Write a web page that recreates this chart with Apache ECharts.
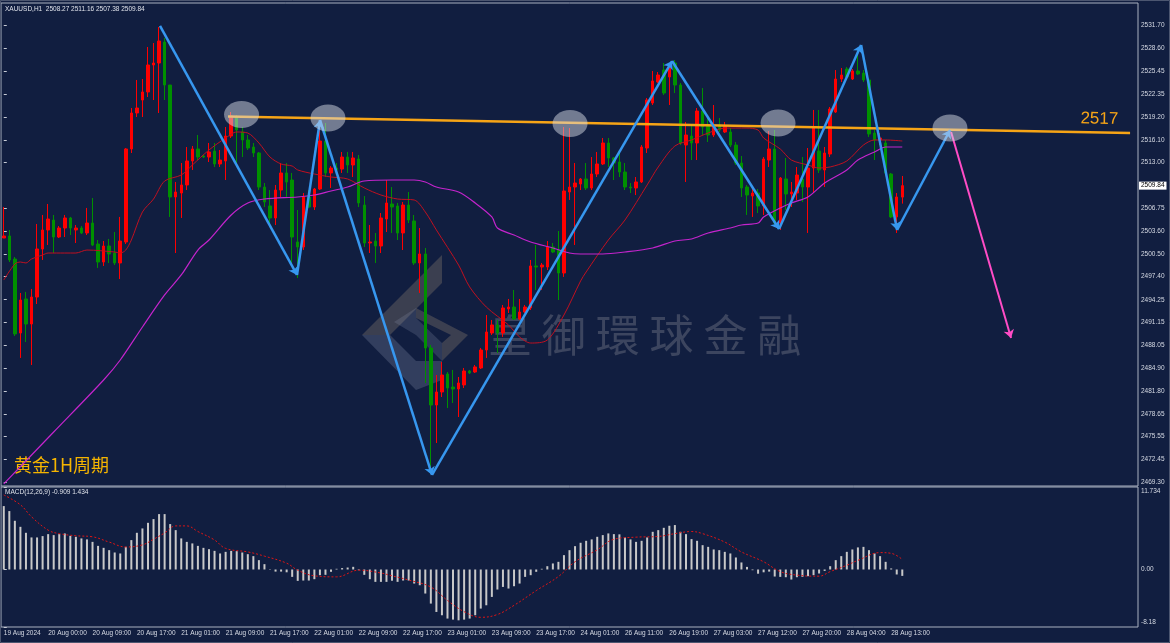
<!DOCTYPE html>
<html>
<head>
<meta charset="utf-8">
<script src="https://cdn.jsdelivr.net/npm/echarts@6/dist/echarts.min.js"></script>
<style>
html,body{margin:0;padding:0;background:#111e40;}
#main{width:1170px;height:643px;}
</style>
</head>
<body>
<div id="main"></div>
<script>
// 底部时间标签, 每8根K线一个
const timeLabels = ['19 Aug 2024','20 Aug 00:00','20 Aug 09:00','20 Aug 17:00','21 Aug 01:00','21 Aug 09:00','21 Aug 17:00','22 Aug 01:00','22 Aug 09:00','22 Aug 17:00','23 Aug 01:00','23 Aug 09:00','23 Aug 17:00','24 Aug 01:00','26 Aug 11:00','26 Aug 19:00','27 Aug 03:00','27 Aug 12:00','27 Aug 20:00','28 Aug 04:00','28 Aug 13:00'];
const barSlots = 205; // 右侧留白

// K线 [open, close, low, high]
const candles = [
[2502.68,2502.96,2502.68,2506.92],[2502.96,2499.68,2499.40,2503.78],[2499.81,2489.57,2489.29,2500.09],[2489.70,2494.21,2486.29,2495.17],
[2494.35,2490.93,2488.47,2495.31],[2490.93,2494.62,2485.33,2495.71],[2494.62,2501.18,2493.66,2504.60],[2501.18,2503.78,2499.68,2505.83],
[2503.78,2505.28,2501.73,2507.33],[2505.14,2502.82,2500.63,2505.83],[2502.82,2504.05,2502.68,2504.32],[2504.05,2505.42,2502.82,2505.83],
[2505.42,2504.05,2503.09,2505.56],[2503.78,2504.05,2502.00,2504.46],[2504.05,2503.37,2503.23,2504.32],[2503.37,2504.73,2503.09,2506.79],
[2504.73,2501.73,2501.59,2508.15],[2501.86,2499.40,2498.59,2502.41],[2499.40,2501.59,2498.86,2502.27],[2501.59,2500.50,2499.27,2502.55],
[2500.63,2499.27,2498.99,2503.50],[2499.27,2502.27,2497.08,2505.56],[2502.14,2514.85,2501.86,2514.98],[2514.85,2519.77,2514.30,2520.45],
[2519.77,2520.45,2519.22,2524.28],[2521.54,2522.64,2519.22,2524.41],[2522.64,2526.33,2521.95,2528.79],[2526.33,2526.60,2521.54,2529.33],
[2526.60,2529.61,2519.77,2531.52],[2529.47,2523.59,2521.54,2530.02],[2523.59,2508.29,2505.56,2523.59],[2508.29,2508.97,2500.63,2510.34],
[2508.83,2509.93,2505.42,2512.93],[2509.93,2513.21,2509.24,2515.12],[2513.21,2514.85,2511.98,2515.26],[2514.85,2513.75,2513.34,2516.76],
[2513.89,2513.75,2513.62,2514.03],[2513.75,2514.44,2513.07,2515.67],[2514.57,2512.80,2512.39,2515.67],[2512.80,2513.34,2512.39,2514.71],
[2513.21,2516.62,2510.61,2517.85],[2516.62,2519.36,2516.35,2519.90],[2519.22,2517.44,2512.93,2519.49],[2517.17,2516.08,2513.75,2517.85],
[2516.08,2514.98,2514.71,2516.76],[2515.12,2514.30,2513.75,2515.67],[2514.30,2509.65,2509.24,2514.44],[2509.65,2507.60,2506.92,2510.20],
[2507.06,2505.42,2504.19,2509.24],[2505.42,2509.24,2504.46,2509.93],[2509.24,2511.57,2508.29,2512.93],[2511.57,2510.34,2508.29,2512.93],
[2510.61,2502.82,2498.99,2511.57],[2502.14,2501.45,2497.22,2506.51],[2501.45,2508.29,2501.04,2508.83],[2508.29,2506.92,2506.79,2509.24],
[2506.92,2509.38,2506.51,2509.52],[2509.38,2515.94,2509.24,2518.81],[2515.94,2511.57,2511.02,2518.40],[2511.57,2512.25,2509.52,2512.52],
[2512.25,2511.98,2511.70,2512.93],[2512.11,2513.75,2511.57,2514.44],[2513.75,2512.66,2511.57,2514.44],[2512.66,2513.62,2511.02,2514.44],
[2513.48,2507.47,2506.92,2514.03],[2507.19,2502.00,2501.45,2508.42],[2502.00,2502.14,2500.63,2504.46],[2502.27,2501.59,2499.27,2503.37],
[2501.59,2505.42,2500.63,2506.10],[2505.28,2507.47,2503.50,2510.61],[2507.33,2506.92,2503.37,2509.65],[2507.06,2503.37,2502.41,2507.47],
[2503.37,2507.19,2501.04,2507.60],[2507.19,2505.14,2504.73,2508.97],[2505.01,2499.27,2498.99,2505.83],[2499.27,2500.50,2495.17,2504.05],
[2500.50,2487.65,2482.87,2501.32],[2487.65,2479.86,2470.57,2488.06],[2479.86,2481.64,2474.67,2483.96],[2481.64,2483.96,2480.95,2485.74],
[2484.10,2482.18,2479.45,2484.37],[2482.32,2482.05,2480.13,2484.65],[2482.05,2482.87,2478.22,2483.69],[2482.60,2484.51,2482.18,2484.92],
[2484.51,2484.24,2484.10,2484.65],[2484.37,2485.06,2484.24,2485.33],[2484.92,2487.38,2484.78,2487.65],[2487.38,2489.84,2486.29,2492.16],
[2489.70,2490.80,2489.43,2491.48],[2490.80,2489.70,2486.97,2491.48],[2489.70,2493.12,2489.16,2493.53],[2492.98,2493.25,2492.43,2494.35],
[2493.25,2491.61,2491.48,2495.58],[2491.61,2492.57,2491.48,2494.35],[2492.57,2493.25,2492.43,2493.53],[2493.12,2498.86,2492.84,2499.68],
[2498.86,2498.72,2495.58,2501.73],[2498.72,2498.99,2495.58,2499.27],[2498.72,2501.45,2498.31,2502.27],[2501.45,2500.77,2500.63,2502.00],
[2501.04,2497.90,2494.21,2503.64],[2497.90,2509.11,2497.36,2517.85],[2508.97,2509.65,2507.88,2517.71],[2509.65,2510.20,2501.73,2512.93],
[2510.06,2510.75,2509.24,2510.88],[2510.75,2509.52,2509.24,2512.93],[2509.52,2511.43,2509.24,2513.75],[2511.43,2512.80,2511.02,2514.44],
[2512.80,2515.67,2512.66,2516.35],[2515.67,2513.62,2512.39,2516.35],[2513.62,2512.93,2510.61,2513.75],[2513.07,2511.70,2511.02,2514.71],
[2511.70,2509.65,2509.24,2512.93],[2509.65,2509.52,2508.83,2510.20],[2509.52,2510.34,2508.56,2511.02],[2510.34,2515.12,2510.20,2515.39],
[2514.98,2521.54,2514.30,2521.82],[2521.13,2524.14,2520.86,2525.51],[2524.00,2524.96,2523.87,2525.37],[2525.64,2522.50,2522.23,2526.60],
[2524.69,2525.92,2520.86,2526.46],[2526.60,2523.59,2522.50,2527.01],[2523.59,2515.67,2515.39,2523.87],[2515.39,2516.76,2510.34,2518.54],
[2516.62,2515.67,2513.34,2518.13],[2515.67,2520.04,2513.34,2520.45],[2520.04,2517.85,2516.76,2523.18],[2518.13,2516.76,2515.80,2519.08],
[2516.76,2517.99,2516.49,2520.86],[2518.13,2517.44,2517.17,2519.08],[2517.17,2517.99,2517.03,2518.54],[2517.17,2515.39,2515.12,2517.71],
[2515.39,2512.93,2512.66,2515.80],[2512.93,2509.52,2508.29,2513.89],[2509.65,2508.56,2505.83,2509.93],[2508.42,2508.83,2505.56,2509.65],
[2508.83,2507.06,2506.10,2509.38],[2507.06,2513.48,2505.83,2513.75],[2513.34,2514.85,2512.39,2517.31],[2514.85,2504.73,2504.19,2517.44],
[2504.73,2510.88,2503.78,2511.02],[2510.75,2508.70,2506.51,2513.62],[2508.70,2508.97,2506.92,2510.34],[2508.83,2511.29,2507.88,2512.39],
[2510.75,2509.65,2507.60,2513.75],[2509.65,2512.25,2503.37,2514.98],[2512.25,2517.85,2508.83,2520.18],[2514.57,2511.98,2511.57,2520.18],
[2511.98,2514.30,2509.65,2515.12],[2514.16,2520.31,2513.75,2520.59],[2519.90,2524.41,2519.77,2525.64],[2524.41,2524.96,2524.00,2525.92],
[2525.78,2524.69,2524.28,2526.05],[2524.41,2525.51,2524.28,2525.78],[2525.51,2525.10,2524.96,2528.65],[2525.23,2524.28,2524.00,2525.64],
[2524.28,2516.90,2516.49,2524.55],[2517.03,2516.08,2513.34,2517.44],[2516.08,2516.35,2515.39,2517.03],[2515.67,2511.57,2511.29,2516.08],
[2511.43,2505.56,2505.42,2511.57],[2505.56,2508.29,2503.37,2508.83],[2508.27,2509.84,2507.38,2511.16]
];

// 均线 (读图取样点) [bar index, price]
const maFast = [[0,2496.94],[2,2499.13],[3,2499.40],[4,2499.27],[5,2499.81],[7,2500.36],[8,2500.63],[11,2500.63],[13,2500.63],[15,2501.04],[20,2500.77],[21,2500.63],[22,2501.04],[23,2502.41],[25,2506.24],[27,2508.01],[29,2510.47],[32,2511.29],[34,2512.66],[37,2514.71],[40,2516.35],[42,2517.17],[44,2517.03],[46,2515.67],[48,2513.75],[50,2512.80],[52,2512.52],[53,2511.98],[56,2511.43],[59,2511.02],[62,2510.75],[65,2509.52],[68,2508.56],[71,2508.01],[74,2507.88],[76,2506.24],[78,2503.78],[82,2498.99],[84,2495.99],[87,2493.25],[91,2490.80],[93,2489.16],[95,2488.33],[98,2488.74],[101,2492.16],[104,2496.81],[105,2498.04],[109,2502.41],[112,2505.14],[116,2509.93],[118,2512.39],[121,2515.26],[124,2516.08],[127,2517.03],[130,2517.71],[134,2517.71],[136,2517.44],[137,2516.35],[140,2514.85],[142,2513.34],[145,2512.66],[147,2512.25],[149,2512.39],[152,2513.21],[155,2515.39],[157,2516.08],[159,2516.08],[162,2515.94]];
const maSlow = [[0,2469.07],[9,2476.17],[18,2483.28],[21,2486.01],[25,2490.52],[29,2494.90],[32,2497.63],[35,2501.04],[37,2502.41],[41,2505.83],[44,2507.47],[47,2508.01],[53,2508.29],[56,2508.56],[59,2509.11],[62,2509.65],[65,2510.47],[70,2510.61],[74,2510.61],[76,2510.34],[78,2509.65],[82,2508.97],[85,2507.47],[88,2505.56],[89,2504.05],[92,2503.09],[95,2502.14],[99,2501.32],[102,2500.63],[104,2500.50],[108,2500.50],[112,2500.77],[117,2501.32],[121,2502.27],[124,2502.55],[127,2503.37],[131,2504.05],[133,2504.46],[136,2504.73],[137,2505.56],[140,2506.79],[142,2507.47],[145,2508.29],[148,2510.20],[152,2511.98],[154,2513.34],[157,2514.44],[159,2515.12],[162,2515.12]];

// MACD 柱
const macdHist = [9.02,8.31,6.93,6.07,5.22,4.56,4.56,4.75,5.03,4.89,5.03,5.13,4.79,4.65,4.42,4.28,3.93,3.36,3.08,2.75,2.42,2.28,3.22,4.18,5.22,5.84,6.64,7.17,7.88,7.88,6.46,5.60,4.42,3.93,3.71,3.36,3.08,2.89,2.65,2.28,2.51,2.65,2.61,2.42,2.18,1.90,1.33,0.76,0.05,-0.3,-0.3,-0.4,-1.05,-1.62,-1.57,-1.57,-1.38,-0.81,-0.76,-0.33,0.1,0.2,0.28,0.38,-0.1,-0.76,-1.38,-1.76,-1.76,-1.76,-1.6,-1.76,-1.57,-1.57,-2.0,-2.24,-3.42,-4.85,-6.04,-6.51,-6.98,-7.13,-7.23,-7.13,-6.98,-6.51,-5.56,-5.09,-3.9,-2.85,-2.48,-2.71,-2.38,-2.0,-1.05,-0.81,-0.33,0.1,0.47,0.86,1.09,2.04,2.75,3.32,3.80,4.08,4.28,4.65,4.89,5.13,5.03,5.0,4.56,4.28,3.93,4.08,4.56,5.36,5.60,5.93,6.22,6.32,5.36,5.03,4.32,4.08,3.46,3.22,2.85,2.75,2.51,2.28,1.71,1.0,0.37,-0.1,-0.6,-0.4,-0.3,-1.0,-1.05,-1.1,-1.43,-1.1,-1.05,-0.95,-0.81,-0.57,-0.2,0.47,1.33,1.90,2.51,2.85,3.14,3.22,2.75,2.28,1.90,1.09,0.15,-0.71,-0.909];
// 信号线 (取样点)
const macdSignal = [[0,10.6],[3,9.2],[5,7.5],[8,5.6],[10,5.1],[13,4.8],[16,4.65],[19,3.9],[22,3.2],[25,3.5],[27,4.3],[29,5.2],[31,6.2],[33,6.2],[35,5.4],[38,4.2],[40,3.0],[44,2.5],[47,1.9],[51,0.9],[53,-0.1],[56,-0.9],[60,-1.05],[64,-0.1],[68,-0.5],[70,-0.9],[73,-1.5],[77,-2.5],[80,-4.4],[83,-6.0],[86,-6.8],[89,-6.4],[92,-5.1],[96,-3.0],[100,-1.0],[103,1.1],[107,2.8],[110,4.3],[114,4.6],[118,4.7],[121,5.1],[124,5.4],[126,5.1],[130,3.9],[133,2.5],[137,1.1],[140,-0.3],[143,-0.8],[147,-0.95],[149,-0.3],[152,0.6],[154,1.3],[158,2.4],[160,2.3],[162,1.434]];

// 坐标轴刻度
const priceTicks = [2469.30,2472.45,2475.55,2478.65,2481.80,2484.90,2488.05,2491.15,2494.25,2497.40,2500.50,2503.60,2506.75,2513.00,2516.10,2519.20,2522.35,2525.45,2528.60,2531.70];
const macdTicks = [11.734, 0, -8.18];

// 画线标注 [bar index, price]
const zigzag = [[28.17,2531.66],[52.87,2497.63],[57.02,2518.81],[77.21,2470.30],[120.49,2526.87],[139.78,2503.91],[154.57,2529.06],[161.06,2503.78],[170.62,2517.44]];
const circleMarks = [[42.87,2519.56],[58.46,2519.08],[102.1,2518.33],[139.6,2518.40],[170.6,2517.71]];
const resistLine = [[40.43,2519.29],[203.07,2517.03]];
const pinkArrow = [[170.8,2517.17],[181.61,2489.02]];

const cats = [];
for (let i = 0; i < barSlots; i++) cats.push(String(i));
const last = candles[candles.length - 1];

const chart = echarts.init(document.getElementById('main'));
const axisFont = { color: '#d6dae4', fontSize: 6.5, fontFamily: 'Liberation Sans' };
const segs = [];
for (let i = 1; i < zigzag.length; i++) segs.push({ coords: [zigzag[i - 1], zigzag[i]] });

chart.setOption({
  animation: false,
  backgroundColor: '#111e40',
  grid: [
    { left: 1, top: 3, width: 1137, height: 483, show: true, borderColor: '#aab1c0', borderWidth: 1 },
    { left: 1, top: 487, width: 1137, height: 140, show: true, borderColor: '#aab1c0', borderWidth: 1 }
  ],
  xAxis: [
    { type: 'category', gridIndex: 0, data: cats, show: false },
    {
      type: 'category', gridIndex: 1, data: cats,
      axisLine: { show: false },
      axisTick: { alignWithLabel: true, length: 3, lineStyle: { color: '#c8ccd6' },
        interval: (idx) => idx % 8 === 0 && idx / 8 < timeLabels.length },
      axisLabel: Object.assign({ align: 'left', margin: 3,
        interval: (idx) => idx % 8 === 0 && idx / 8 < timeLabels.length,
        formatter: (v, idx) => timeLabels[idx / 8] || '' }, axisFont)
    },
    { type: 'value', gridIndex: 0, min: -0.5, max: barSlots - 0.5, show: false },
    { type: 'value', gridIndex: 1, min: -0.5, max: barSlots - 0.5, show: false }
  ],
  yAxis: [
    {
      type: 'value', gridIndex: 0, position: 'right', min: 2468.79, max: 2534.80,
      splitLine: { show: false }, axisLine: { show: false },
      axisTick: { show: true, length: 3, customValues: priceTicks, lineStyle: { color: '#c8ccd6' } },
      axisLabel: Object.assign({ margin: 3, customValues: priceTicks, formatter: (v) => v.toFixed(2) }, axisFont)
    },
    {
      type: 'value', gridIndex: 1, position: 'right', min: -8.18, max: 11.734,
      splitLine: { show: false }, axisLine: { show: false },
      axisTick: { show: true, length: 3, customValues: macdTicks, lineStyle: { color: '#c8ccd6' } },
      axisLabel: Object.assign({ margin: 3, customValues: macdTicks,
        formatter: (v) => v === 11.734 ? '{t|11.734}' : (v === -8.18 ? '{b|-8.18}' : v.toFixed(2)),
        rich: {
          t: { padding: [9, 0, 0, 0], color: '#d6dae4', fontSize: 6.5, fontFamily: 'Liberation Sans' },
          b: { padding: [0, 0, 9, 0], color: '#d6dae4', fontSize: 6.5, fontFamily: 'Liberation Sans' }
        } }, axisFont)
    }
  ],
  series: [
    {
      type: 'candlestick', xAxisIndex: 0, yAxisIndex: 0, data: candles, barWidth: 3,
      itemStyle: { color: '#ff0000', color0: '#009000', borderColor: '#ff0000', borderColor0: '#009000', borderWidth: 1 },
      z: 2
    },
    // 当前价标签
    { type: 'line', xAxisIndex: 2, yAxisIndex: 0, data: [], z: 20,
      markLine: {
        silent: true, symbol: 'none', animation: false,
        lineStyle: { color: 'rgba(0,0,0,0)', width: 1 },
        label: { show: true, position: 'end', distance: 1, formatter: (p) => Number(p.value).toFixed(2),
          backgroundColor: '#ffffff', color: '#000000', padding: [1, 2, 0, 2],
          fontSize: 6.5, fontFamily: 'Liberation Sans' },
        data: [{ yAxis: last[1] }]
      } },
    { type: 'line', xAxisIndex: 2, yAxisIndex: 0, data: maFast, showSymbol: false, smooth: 0.3,
      lineStyle: { color: '#c01020', width: 1 }, z: 3 },
    { type: 'line', xAxisIndex: 2, yAxisIndex: 0, data: maSlow, showSymbol: false, smooth: 0.3,
      lineStyle: { color: '#c424cc', width: 1.2 }, z: 3 },
    { type: 'lines', coordinateSystem: 'cartesian2d', xAxisIndex: 2, yAxisIndex: 0, z: 6,
      data: [{ coords: resistLine }],
      lineStyle: { color: '#f6a416', width: 2.5, opacity: 1 },
      label: { show: true, position: 'insideEndTop', formatter: '2517', color: '#f6a416',
        fontSize: 17, fontFamily: 'Liberation Sans', distance: 5, padding: [0, 7, 0, 0] } },
    { type: 'lines', coordinateSystem: 'cartesian2d', xAxisIndex: 2, yAxisIndex: 0, z: 7,
      data: segs, symbol: ['none', 'arrow'], symbolSize: 8,
      lineStyle: { color: '#3797ef', width: 2.5, opacity: 1 } },
    { type: 'lines', coordinateSystem: 'cartesian2d', xAxisIndex: 2, yAxisIndex: 0, z: 7,
      data: [{ coords: pinkArrow }], symbol: ['none', 'arrow'], symbolSize: 8,
      lineStyle: { color: '#ff4cc6', width: 2, opacity: 1 } },
    { type: 'scatter', xAxisIndex: 2, yAxisIndex: 0, data: circleMarks, symbol: 'circle',
      symbolSize: [35, 27], itemStyle: { color: 'rgba(214,218,228,0.62)' }, z: 8 },
    { type: 'bar', xAxisIndex: 1, yAxisIndex: 1, data: macdHist, barWidth: 2,
      itemStyle: { color: '#c8c8c8' } },
    { type: 'line', xAxisIndex: 3, yAxisIndex: 1, data: macdSignal, showSymbol: false, smooth: 0.4,
      lineStyle: { color: '#e01414', width: 1, type: [2, 2] } }
  ],
  graphic: [
    { type: 'rect', silent: true, shape: { x: 0.5, y: 0.5, width: 1169, height: 642 },
      style: { fill: 'none', stroke: '#4c5670', lineWidth: 1 } },
    { type: 'text', x: 5, y: 9, style: { text: 'XAUUSD,H1  ' + [last[0], last[3], last[2], last[1]].map(v => v.toFixed(2)).join(' '),
      fill: '#dfe2ea', font: '6.5px "Liberation Sans"', verticalAlign: 'middle' } },
    { type: 'text', x: 5, y: 492, style: { text: 'MACD(12,26,9) ' + macdHist[macdHist.length - 1].toFixed(3) + ' ' + macdSignal[macdSignal.length - 1][1].toFixed(3),
      fill: '#dfe2ea', font: '6.5px "Liberation Sans"', verticalAlign: 'middle' } },
    { type: 'text', x: 14, y: 465, style: { text: '黄金1H周期', fill: '#f5b400',
      font: '18px "Noto Sans CJK SC"', verticalAlign: 'middle' } },
    // 水印
    { type: 'group', z: 100, silent: true, children: [
      { type: 'polygon', shape: { points: [[362,335],[442,255],[442,283],[390,335]] }, style: { fill: 'rgba(150,135,115,0.32)' } },
      { type: 'polygon', shape: { points: [[362,335],[390,335],[416,361],[416,390]] }, style: { fill: 'rgba(130,140,165,0.30)' } },
      { type: 'polygon', shape: { points: [[416,361],[442,361],[442,380],[416,390]] }, style: { fill: 'rgba(130,140,165,0.30)' } },
      { type: 'polygon', shape: { points: [[416,308],[468,335],[442,361],[442,343],[451,335],[416,318]] }, style: { fill: 'rgba(150,135,115,0.32)' } },
      { type: 'polygon', shape: { points: [[416,308],[416,318],[442,343],[442,361],[416,335],[394,322]] }, style: { fill: 'rgba(130,140,165,0.25)' } },
      { type: 'text', x: 488, y: 335, style: { text: '皇 御 環 球 金 融', fill: 'rgba(150,150,158,0.33)',
        font: '44px "Noto Sans CJK TC"', verticalAlign: 'middle' } }
    ] }
  ]
});
</script>
</body>
</html>
